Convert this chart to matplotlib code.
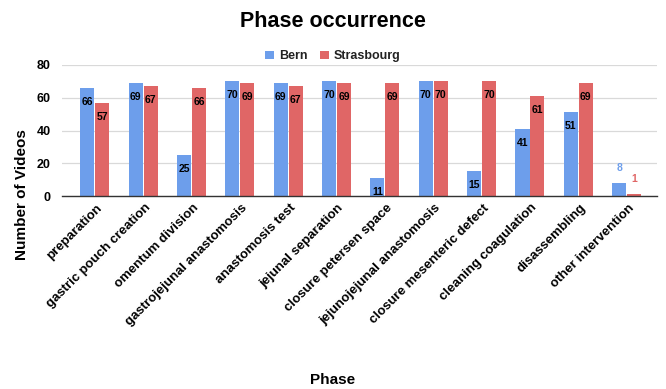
import matplotlib
matplotlib.use("Agg")
import matplotlib.pyplot as plt
import matplotlib.transforms as mtransforms
import numpy as np

plt.rcParams["font.family"] = ["Liberation Sans", "DejaVu Sans"]

phases = [
    "preparation", "gastric pouch creation", "omentum division",
    "gastrojejunal anastomosis", "anastomosis test", "jejunal separation",
    "closure petersen space", "jejunojejunal anastomosis",
    "closure mesenteric defect", "cleaning coagulation", "disassembling",
    "other intervention",
]
bern = [66, 69, 25, 70, 69, 70, 11, 70, 15, 41, 51, 8]
strasbourg = [57, 67, 66, 69, 67, 69, 69, 70, 70, 61, 69, 1]
series_names = ["Bern", "Strasbourg"]
colors = ["#6d9eeb", "#e06666"]
yticks = [0, 20, 40, 60, 80]

fig = plt.figure(figsize=(6.66, 3.89), dpi=100)
ax = fig.add_axes([0.093, 0.496, 0.893, 0.337])

x = np.arange(len(phases))
w = 0.29
gap = 0.02
bars = []
for i, (vals, col, name) in enumerate(zip([bern, strasbourg], colors, series_names)):
    off = (-1 if i == 0 else 1) * (w / 2 + gap / 2)
    b = ax.bar(x + off, vals, width=w, color=col, label=name, zorder=3)
    bars.append(b)
    for xi, v in zip(x + off, vals):
        if v >= 10:
            ax.annotate(str(v), (xi, v), xytext=(0, -10), textcoords="offset points",
                        ha="center", va="center", fontsize=7.5, fontweight="bold",
                        color="black", zorder=4)
        else:
            ax.annotate(str(v), (xi, v), xytext=(0, 11), textcoords="offset points",
                        ha="center", va="center", fontsize=7.5, fontweight="bold",
                        color=col, zorder=4)

ax.set_ylim(0, 80)
ax.set_xlim(-0.68, 11.62)
ax.set_yticks(yticks)
ax.set_yticklabels([str(t) for t in yticks], fontsize=9, fontweight="bold")
ax.yaxis.grid(True, color="#d9d9d9", linewidth=0.9, zorder=0)
ax.tick_params(axis="y", length=0, pad=8)
ax.tick_params(axis="x", length=0, pad=2)
for s in ["top", "right", "left"]:
    ax.spines[s].set_visible(False)
ax.spines["bottom"].set_color("#333333")
ax.spines["bottom"].set_linewidth(1.0)
ax.spines["bottom"].set_zorder(5)

ax.set_xticks(x)
ax.set_xticklabels(phases, rotation=45, ha="right", va="top",
                   rotation_mode="anchor", fontsize=9.5, fontweight="bold")
shift = mtransforms.ScaledTranslation(1 / 100, -3 / 100, fig.dpi_scale_trans)
for lbl in ax.get_xticklabels():
    lbl.set_transform(lbl.get_transform() + shift)

fig.text(0.5, 0.945, "Phase occurrence", ha="center", va="center",
         fontsize=15.5, fontweight="bold")
fig.text(0.033, 0.50, "Number of Videos", ha="center", va="center",
         rotation=90, fontsize=11, fontweight="bold")
fig.text(0.5, 0.022, "Phase", ha="center", va="center",
         fontsize=11, fontweight="bold")

leg = fig.legend(handles=bars, labels=series_names, loc="center",
                 bbox_to_anchor=(0.5, 0.855), ncol=2, frameon=False,
                 fontsize=9, handlelength=0.7, handleheight=0.7,
                 handletextpad=0.4, columnspacing=1.0)
for t in leg.get_texts():
    t.set_fontweight("bold")
    t.set_color("#222222")

fig.savefig("out.png", dpi=100)
